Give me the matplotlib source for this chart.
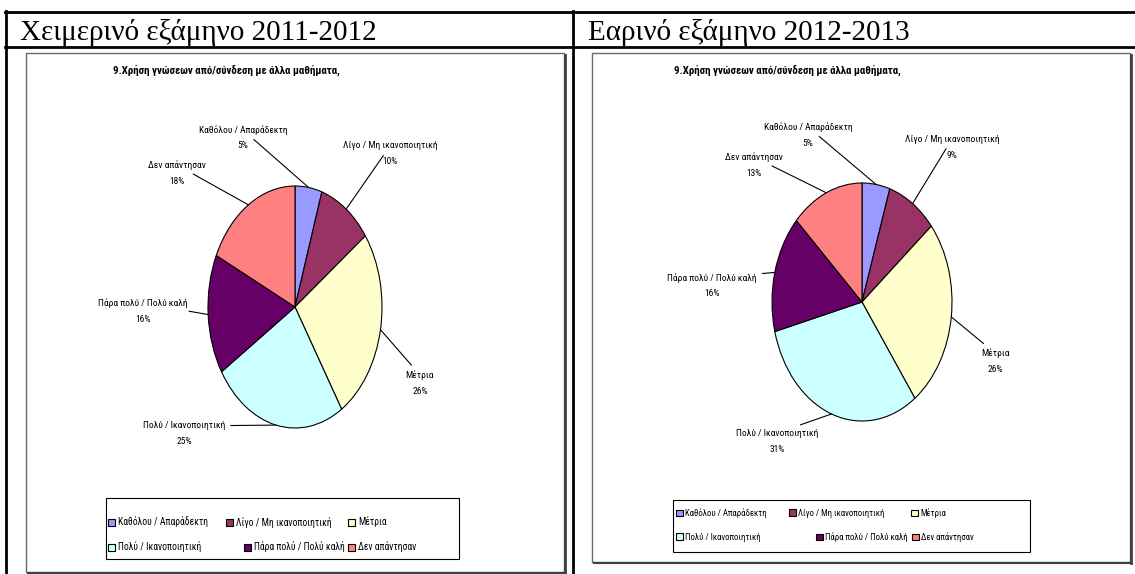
import numpy as np
import matplotlib
matplotlib.use('Agg')
import matplotlib.pyplot as plt
from matplotlib import font_manager
from matplotlib.lines import Line2D
from matplotlib.patches import Rectangle, Patch

W, H = 1135, 574

categories = ['Καθόλου / Απαράδεκτη', 'Λίγο / Μη ικανοποιητική', 'Μέτρια',
              'Πολύ / Ικανοποιητική', 'Πάρα πολύ / Πολύ καλή', 'Δεν απάντησαν']
winter_pct = [5, 10, 26, 25, 16, 18]
spring_pct = [5, 9, 26, 31, 16, 13]
headers = ['Χειμερινό εξάμηνο 2011-2012', 'Εαρινό εξάμηνο 2012-2013']
chart_title = '9.Χρήση γνώσεων από/σύνδεση με άλλα μαθήματα,'
colors = ['#9999FF', '#993366', '#FFFFCC', '#CCFFFF', '#660066', '#FF8080']

# prefer a narrow sans face if one is installed
installed = {f.name for f in font_manager.fontManager.ttflist}
narrow = None
for name in ['Liberation Sans Narrow', 'Roboto Condensed', 'Open Sans Condensed',
             'DejaVu Sans Condensed', 'Noto Sans Condensed']:
    if name in installed:
        narrow = name
        break
if narrow:
    label_font = [narrow, 'DejaVu Sans']
    lab_size, leg_scale, tit_size = 6.8, 1.0, 7.8
else:
    label_font = ['Liberation Sans', 'DejaVu Sans']
    lab_size, leg_scale, tit_size = 5.6, 0.85, 6.3


def fx(x):
    return x / W


def fy(y):
    return 1 - y / H


fig = plt.figure(figsize=(W / 100, H / 100), dpi=100)


def hline(x0, x1, y, lw=2.0, c='black'):
    fig.add_artist(Line2D([fx(x0), fx(x1)], [fy(y), fy(y)], lw=lw, color=c))


def vline(x, y0, y1, lw=2.0, c='black'):
    fig.add_artist(Line2D([fx(x), fx(x)], [fy(y0), fy(y1)], lw=lw, color=c))


def frame(x0, y0, x1, y1, c, lw):
    fig.add_artist(Rectangle((fx(x0), fy(y1)), fx(x1 - x0), (y1 - y0) / H,
                             transform=fig.transFigure, fill=False,
                             edgecolor=c, lw=lw))


# table frame around the two panels
hline(5, W, 12)
hline(5, W, 47)
vline(6, 11, H)
vline(573, 11, H)

fig.text(fx(20), fy(40), headers[0], fontsize=21, family='Liberation Serif',
         va='baseline', ha='left')
fig.text(fx(588), fy(40), headers[1], fontsize=21, family='Liberation Serif',
         va='baseline', ha='left')


def chart_box(x0, y0, x1, y1):
    frame(x0, y0, x1, y1, '#6a6a6a', 1.0)
    # shadow on right and bottom
    vline(x1 + 1, y0 + 2, y1 + 1, lw=2.0, c='#404040')
    hline(x0 + 2, x1 + 2, y1 + 1, lw=1.5, c='#404040')


def draw_pie(values, cx, cy, rx, ry, title_xy, label_pos,
             leg_box, leg_rows, leg_x, leg_size):
    ax = fig.add_axes([fx(cx - rx), fy(cy + ry), 2 * rx / W, 2 * ry / H])
    ax.pie(values, colors=colors, startangle=90, counterclock=False,
           wedgeprops=dict(edgecolor='black', linewidth=0.8))
    ax.set_aspect('auto')
    ax.set_xlim(-1, 1)
    ax.set_ylim(-1, 1)
    ax.axis('off')

    fig.text(fx(title_xy[0]), fy(title_xy[1]), chart_title, fontsize=tit_size,
             fontweight='bold', family=label_font, ha='center', va='center')

    # category name carries the leader line, percentage sits below it
    cum = np.cumsum(values)
    for i, v in enumerate(values):
        mid = np.deg2rad(90 - 360.0 * (cum[i] - v / 2) / sum(values))
        tx, ty = label_pos[i]
        ax.annotate(categories[i],
                    xy=(np.cos(mid), np.sin(mid)), xycoords='data',
                    xytext=(tx, H - ty), textcoords='figure pixels',
                    ha='center', va='center',
                    fontsize=lab_size, family=label_font,
                    annotation_clip=False,
                    arrowprops=dict(arrowstyle='-', color='black', lw=0.8,
                                    shrinkA=2, shrinkB=0))
        fig.text(fx(tx), fy(ty + 16), f'{v}%', fontsize=lab_size,
                 family=label_font, ha='center', va='center')

    # legend: two rows of three entries inside a plain box
    x0, y0, x1, y1 = leg_box
    frame(x0, y0, x1, y1, 'black', 0.8)
    for k in range(6):
        row, col = divmod(k, 3)
        h = Patch(facecolor=colors[k], edgecolor='black', lw=0.8)
        fig.legend([h], [categories[k]], loc='center left',
                   bbox_to_anchor=(fx(leg_x[row][col]), fy(leg_rows[row])),
                   bbox_transform=fig.transFigure, frameon=False,
                   prop=dict(family=label_font, size=leg_size * leg_scale),
                   handlelength=0.75, handleheight=0.75, handletextpad=0.3,
                   borderpad=0, borderaxespad=0)


chart_box(26, 53, 564, 572)
chart_box(592, 53, 1130, 562)

draw_pie(winter_pct, 295, 307, 87, 121, (226, 70),
         [(243, 130), (390, 146), (420, 375), (184, 426), (143, 303), (177, 165)],
         (106, 498, 459, 559), (522, 547), ((108, 226, 348), (108, 244, 348)), 6.9)
draw_pie(spring_pct, 862, 302, 90, 119, (787, 70),
         [(808, 127), (952, 139), (995, 353), (777, 433), (712, 278), (754, 157)],
         (673, 500, 1030, 552), (513, 537), ((676, 789, 911), (676, 816, 912)), 6.3)

fig.savefig('out.png', dpi=100)
